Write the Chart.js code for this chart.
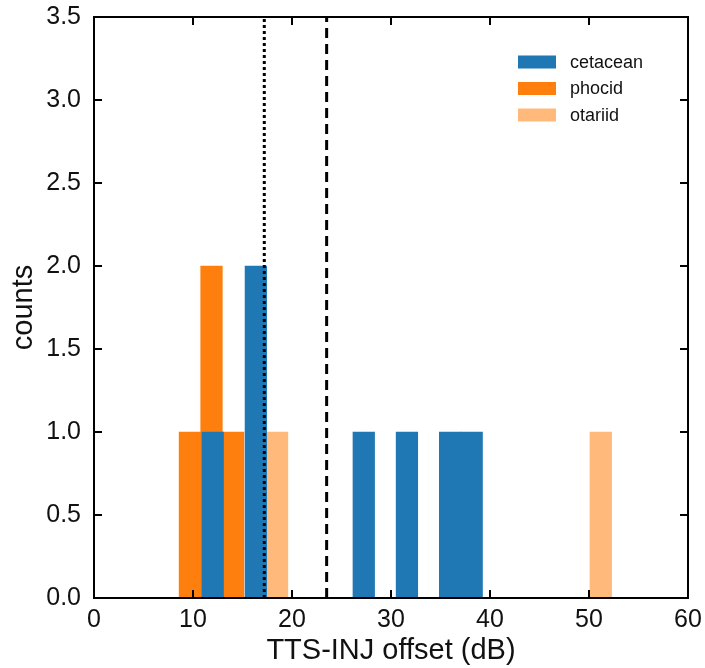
<!DOCTYPE html>
<html>
<head>
<meta charset="utf-8">
<script src="https://cdn.jsdelivr.net/npm/chart.js@4.4.1/dist/chart.umd.min.js"></script>
<style>
  html, body { margin: 0; padding: 0; background: #fff; }
</style>
</head>
<body>
<canvas id="histChart" width="705" height="668"></canvas>
<script>
// histogram bin centres (dB) and counts, one set per group
const cetaceanBins = [11.99, 14.17, 16.35, 18.53, 20.71, 22.89, 25.07, 27.25, 29.43, 31.61, 33.79, 35.97, 38.15];
const cetaceanCounts = [1, 0, 2, 0, 0, 0, 0, 1, 0, 1, 0, 1, 1];

const phocidBins = [9.69, 11.87, 14.05];
const phocidCounts = [1, 2, 1];

const otariidBins = [18.49, 20.67, 22.85, 25.03, 27.21, 29.39, 31.57, 33.75, 35.93, 38.11, 40.29, 42.47, 44.65, 46.83, 49.01, 51.19];
const otariidCounts = [1, 0, 0, 0, 0, 0, 0, 0, 0, 0, 0, 0, 0, 0, 0, 1];

const groupLabels = ["cetacean", "phocid", "otariid"];

const xTicks = [0, 10, 20, 30, 40, 50, 60];
const yTicks = [0, 0.5, 1.0, 1.5, 2.0, 2.5, 3.0, 3.5];

// reference lines (dB)
const dottedLineX = 17.2;
const dashedLineX = 23.5;

const FONT = "'Liberation Sans', Arial, Helvetica, sans-serif";

function toPoints(bins, counts) {
  return bins.map((b, i) => ({ x: b, y: counts[i] }));
}

function vline(x) {
  return [{ x: x, y: yTicks[0] }, { x: x, y: yTicks[yTicks.length - 1] }];
}

function hiddenAxis() {
  return {
    type: "linear",
    display: false,
    offset: false,
    min: xTicks[0],
    max: xTicks[xTicks.length - 1],
    afterBuildTicks: s => { s.ticks = xTicks.map(v => ({ value: v })); }
  };
}

// frame + inward tick marks on all four sides
const frameTicks = {
  id: "frameTicks",
  afterDraw(chart) {
    const { ctx, chartArea: a, scales } = chart;
    const len = 8;
    ctx.save();
    ctx.strokeStyle = "#000";
    ctx.lineWidth = 2;
    ctx.strokeRect(a.left, a.top, a.right - a.left, a.bottom - a.top);
    ctx.beginPath();
    xTicks.forEach(v => {
      const px = scales.x.getPixelForValue(v);
      ctx.moveTo(px, a.bottom); ctx.lineTo(px, a.bottom - len);
      ctx.moveTo(px, a.top); ctx.lineTo(px, a.top + len);
    });
    yTicks.forEach(v => {
      const py = scales.y.getPixelForValue(v);
      ctx.moveTo(a.left, py); ctx.lineTo(a.left + len, py);
      ctx.moveTo(a.right, py); ctx.lineTo(a.right - len, py);
    });
    ctx.stroke();
    ctx.restore();
  }
};

// legend drawn inside the plot, top right
const innerLegend = {
  id: "innerLegend",
  afterDraw(chart) {
    const { ctx, chartArea: a } = chart;
    const x0 = a.right - 170;
    let y = a.top + 45;
    ctx.save();
    ctx.font = "18px " + FONT;
    ctx.textBaseline = "middle";
    chart.data.datasets.forEach(ds => {
      if (!groupLabels.includes(ds.label)) return;
      ctx.fillStyle = ds.backgroundColor;
      ctx.fillRect(x0, y - 6.5, 38, 13);
      ctx.fillStyle = "#111";
      ctx.fillText(ds.label, x0 + 52, y + 1);
      y += 26.5;
    });
    ctx.restore();
  }
};

const barStyle = {
  barPercentage: 1,
  categoryPercentage: 1,
  grouped: false,
  borderWidth: 0
};

new Chart(document.getElementById("histChart"), {
  type: "bar",
  data: {
    datasets: [
      Object.assign({
        label: groupLabels[0],
        data: toPoints(cetaceanBins, cetaceanCounts),
        backgroundColor: "#1f77b4",
        xAxisID: "xc"
      }, barStyle),
      Object.assign({
        label: groupLabels[1],
        data: toPoints(phocidBins, phocidCounts),
        backgroundColor: "#ff7f0e",
        xAxisID: "xp"
      }, barStyle),
      Object.assign({
        label: groupLabels[2],
        data: toPoints(otariidBins, otariidCounts),
        backgroundColor: "#ffb97a",
        xAxisID: "xo"
      }, barStyle),
      {
        type: "line",
        label: "dotted",
        data: vline(dottedLineX),
        xAxisID: "x",
        borderColor: "#000",
        borderWidth: 3,
        borderDash: [3, 3],
        pointRadius: 0,
        order: -1
      },
      {
        type: "line",
        label: "dashed",
        data: vline(dashedLineX),
        xAxisID: "x",
        borderColor: "#000",
        borderWidth: 3,
        borderDash: [10, 6],
        pointRadius: 0,
        order: -1
      }
    ]
  },
  options: {
    responsive: false,
    animation: false,
    devicePixelRatio: 1,
    layout: { padding: { top: 17, right: 17, left: 0, bottom: 0 } },
    plugins: {
      legend: { display: false },
      tooltip: { enabled: false }
    },
    scales: {
      x: {
        type: "linear",
        position: "bottom",
        offset: false,
        min: xTicks[0],
        max: xTicks[xTicks.length - 1],
        afterBuildTicks: s => { s.ticks = xTicks.map(v => ({ value: v })); },
        afterFit: s => { s.height = 70; s.paddingLeft = 0; s.paddingRight = 0; },
        grid: { display: false, drawTicks: false },
        border: { display: false },
        ticks: { color: "#111", font: { family: FONT, size: 25 }, padding: 7, maxRotation: 0 },
        title: {
          display: true,
          text: "TTS-INJ offset (dB)",
          color: "#111",
          font: { family: FONT, size: 29 },
          padding: { top: 0, bottom: 0 }
        }
      },
      xc: hiddenAxis(),
      xp: hiddenAxis(),
      xo: hiddenAxis(),
      y: {
        type: "linear",
        position: "left",
        min: yTicks[0],
        max: yTicks[yTicks.length - 1],
        afterBuildTicks: s => { s.ticks = yTicks.map(v => ({ value: v })); },
        afterFit: s => { s.width = 94; s.paddingTop = 0; s.paddingBottom = 0; },
        grid: { display: false, drawTicks: false },
        border: { display: false },
        ticks: {
          color: "#111",
          font: { family: FONT, size: 25 },
          padding: 13,
          callback: v => v.toFixed(1)
        },
        title: {
          display: true,
          text: "counts",
          color: "#111",
          font: { family: FONT, size: 29 },
          padding: { top: 7, bottom: 0 }
        }
      }
    }
  },
  plugins: [frameTicks, innerLegend]
});
</script>
</body>
</html>
